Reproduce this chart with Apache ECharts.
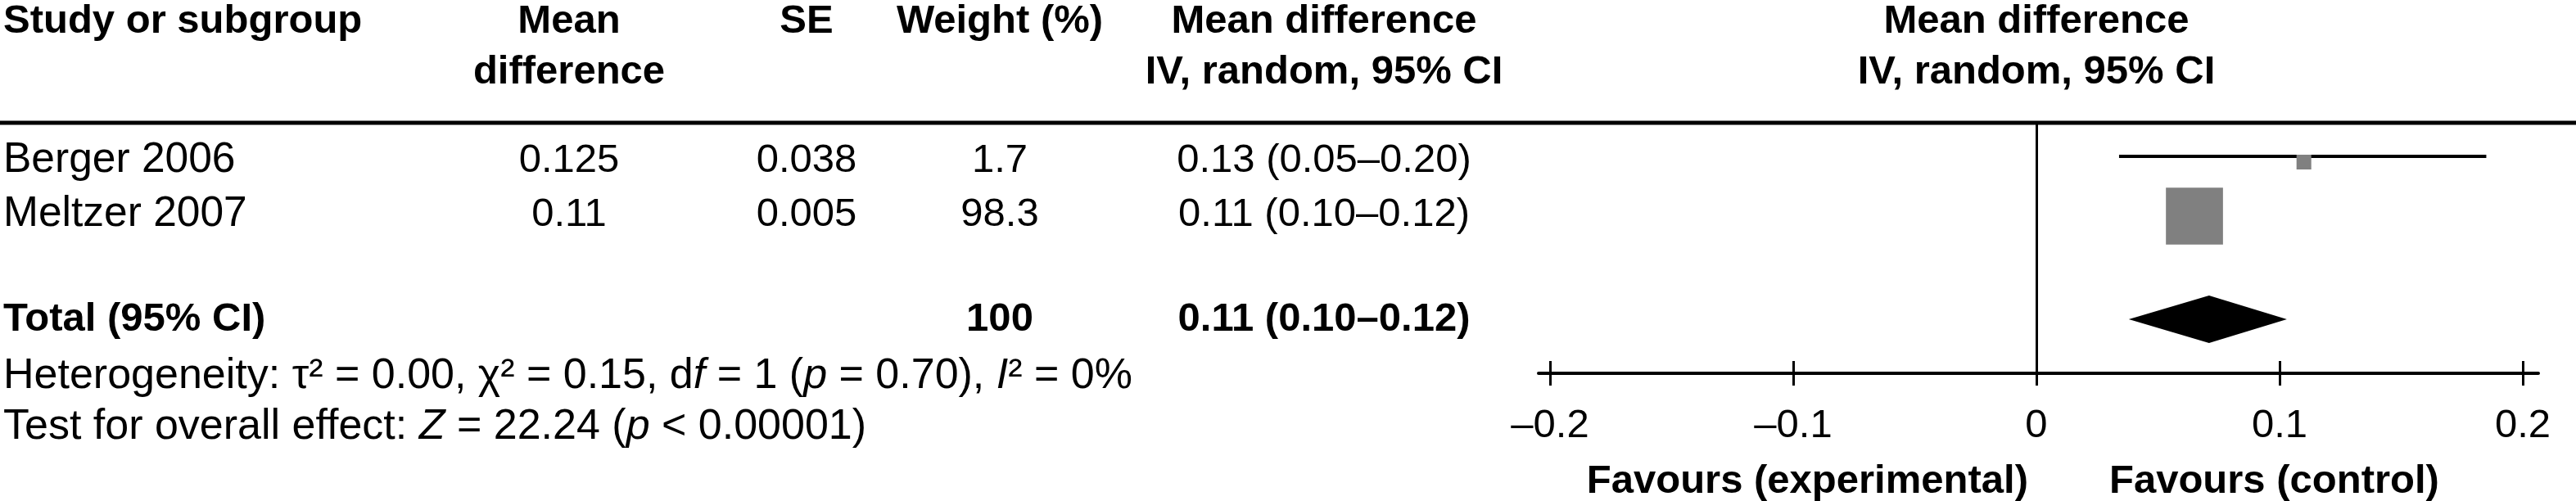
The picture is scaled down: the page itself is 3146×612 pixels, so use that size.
<!DOCTYPE html>
<html><head><meta charset="utf-8">
<script src="https://cdn.jsdelivr.net/npm/echarts@6/dist/echarts.min.js"></script>
<style>html,body{margin:0;padding:0;background:#fff}#c{width:3146px;height:612px}</style>
</head><body><div id="c"></div>
<script>
// ---- data ----
const studies = ['Berger 2006', 'Meltzer 2007'];
const meanDiffText = ['0.125', '0.11'];
const seText = ['0.038', '0.005'];
const weightText = ['1.7', '98.3'];
const ciText = ['0.13 (0.05–0.20)', '0.11 (0.10–0.12)'];
const weights = [1.7, 98.3];
const plotMean = [0.11, 0.065];
const plotLo = [0.034, 0.060];
const plotHi = [0.185, 0.070];
const rowPos = [1, 2];
const totalRowPos = 3.94;
const totalLabel = 'Total (95% CI)';
const totalWeightText = '100';
const totalCiText = '0.11 (0.10–0.12)';
const totalLo = 0.038, totalMid = 0.071, totalHi = 0.103;
const xTicks = [-0.2, -0.1, 0, 0.1, 0.2];
const headers = {
  study: 'Study or subgroup',
  md: 'Mean\ndifference',
  se: 'SE',
  weight: 'Weight (%)',
  ci: 'Mean difference\nIV, random, 95% CI',
  plot: 'Mean difference\nIV, random, 95% CI'
};
const favLeft = 'Favours (experimental)';
const favRight = 'Favours (control)';

// ---- layout ----
const FONT = 'Liberation Sans, Arial, sans-serif';
const FS = 49, FS_WORD = 51.5, FS_FOOT = 52;
const colMD = 695, colSE = 985, colW = 1221, colCI = 1617;
const RULE_Y = 150;

const chart = echarts.init(document.getElementById('c'), null, {renderer: 'canvas'});

const studyData = studies.map((s, i) => [plotMean[i], plotLo[i], plotHi[i], rowPos[i], weights[i]]);

const option = {
  backgroundColor: '#fff',
  animation: false,
  grid: {left: 1879, right: 46, top: RULE_Y, bottom: 156},
  xAxis: [{
    type: 'value', min: -0.2047, max: 0.2064, position: 'bottom',
    axisLine: {show: true, onZero: false, lineStyle: {color: '#000', width: 4}},
    axisTick: {show: true, inside: false, length: 15, customValues: xTicks, lineStyle: {color: '#000', width: 3}},
    axisLabel: {show: true, customValues: xTicks, margin: 40, color: '#000', fontSize: FS, fontFamily: FONT,
      formatter: v => (v < 0 ? '–' + Math.abs(v) : String(v))},
    splitLine: {show: false}
  }, {
    type: 'value', min: -0.2047, max: 0.2064, position: 'bottom',
    axisLine: {show: false, onZero: false},
    axisTick: {show: true, inside: true, length: 15, customValues: xTicks, lineStyle: {color: '#000', width: 3}},
    axisLabel: {show: false}, splitLine: {show: false}
  }],
  yAxis: {type: 'value', inverse: true, min: 0.303, max: 4.939, show: false},
  series: [{
    type: 'line', data: [], silent: true,
    markLine: {symbol: 'none', silent: true, label: {show: false},
      lineStyle: {color: '#000', width: 3, type: 'solid'}, data: [{xAxis: 0}]}
  }, {
    type: 'custom', data: studyData, silent: true,
    renderItem: function (params, api) {
      const y = api.coord([0, api.value(3)])[1];
      const lo = api.coord([api.value(1), 0])[0];
      const hi = api.coord([api.value(2), 0])[0];
      const cx = api.coord([api.value(0), 0])[0];
      const size = 15.1 * Math.cbrt(api.value(4));
      return {type: 'group', children: [
        {type: 'line', shape: {x1: lo, y1: y - 5, x2: hi, y2: y - 5}, style: {stroke: '#000', lineWidth: 4}},
        {type: 'rect', shape: {x: cx - size / 2, y: y + 2 - size / 2, width: size, height: size}, style: {fill: '#808080'}}
      ]};
    }
  }, {
    type: 'custom', data: [[totalLo, totalMid, totalHi, totalRowPos]], silent: true,
    renderItem: function (params, api) {
      const y = api.coord([0, api.value(3)])[1];
      const lo = api.coord([api.value(0), 0])[0];
      const mid = api.coord([api.value(1), 0])[0];
      const hi = api.coord([api.value(2), 0])[0];
      const h = 29;
      return {type: 'polygon', shape: {points: [[lo, y], [mid, y - h], [hi, y], [mid, y + h]]}, style: {fill: '#000'}};
    }
  }]
};
chart.setOption(option);

function txt(text, x, y, align, bold, size, extra) {
  return {
    type: 'text', silent: true,
    style: Object.assign({text: text, x: x, y: y, align: align, verticalAlign: 'middle',
      fill: '#000', fontSize: size || FS, fontFamily: FONT, fontWeight: bold ? 'bold' : 'normal', lineHeight: 62}, extra || {})
  };
}

const g = [];
const px = (xv, yv) => chart.convertToPixel({gridIndex: 0}, [xv, yv]);
const zeroX = px(0, 1)[0];
const plotCenter = (px(xTicks[0], 1)[0] + px(xTicks[xTicks.length - 1], 1)[0]) / 2;
// header
g.push(txt(headers.study, 4, 26, 'left', true));
g.push(txt(headers.md, colMD, 57, 'center', true));
g.push(txt(headers.se, colSE, 26, 'center', true));
g.push(txt(headers.weight, colW, 26, 'center', true));
g.push(txt(headers.ci, colCI, 57, 'center', true));
g.push(txt(headers.plot, plotCenter, 57, 'center', true));
// rule
g.push({type: 'line', silent: true, shape: {x1: 0, y1: RULE_Y, x2: 3146, y2: RULE_Y}, style: {stroke: '#000', lineWidth: 5}});
// rows
studies.forEach((s, i) => {
  const y = px(0, rowPos[i])[1];
  g.push(txt(s, 4, y, 'left', false, FS_WORD));
  g.push(txt(meanDiffText[i], colMD, y, 'center', false));
  g.push(txt(seText[i], colSE, y, 'center', false));
  g.push(txt(weightText[i], colW, y, 'center', false));
  g.push(txt(ciText[i], colCI, y, 'center', false));
});
const ty = px(0, totalRowPos)[1];
g.push(txt(totalLabel, 4, ty, 'left', true));
g.push(txt(totalWeightText, colW, ty, 'center', true));
g.push(txt(totalCiText, colCI, ty, 'center', true));
// footers
const richSt = {
  n: {fontSize: FS_FOOT, fontFamily: FONT, fill: '#000'},
  i: {fontSize: FS_FOOT, fontFamily: FONT, fontStyle: 'italic', fill: '#000'}
};
g.push(txt('{n|Heterogeneity: τ² = 0.00, χ² = 0.15, d}{i|f}{n| = 1 (}{i|p}{n| = 0.70), }{i|I}{n|² = 0%}', 4, 460, 'left', false, FS_FOOT, {rich: richSt}));
g.push(txt('{n|Test for overall effect: }{i|Z}{n| = 22.24 (}{i|p}{n| < 0.00001)}', 4, 522, 'left', false, FS_FOOT, {rich: richSt}));
// favours
g.push(txt(favLeft, zeroX - 10, 588, 'right', true));
g.push(txt(favRight, zeroX + 89, 588, 'left', true));

chart.setOption({graphic: g});
</script>
</body></html>
